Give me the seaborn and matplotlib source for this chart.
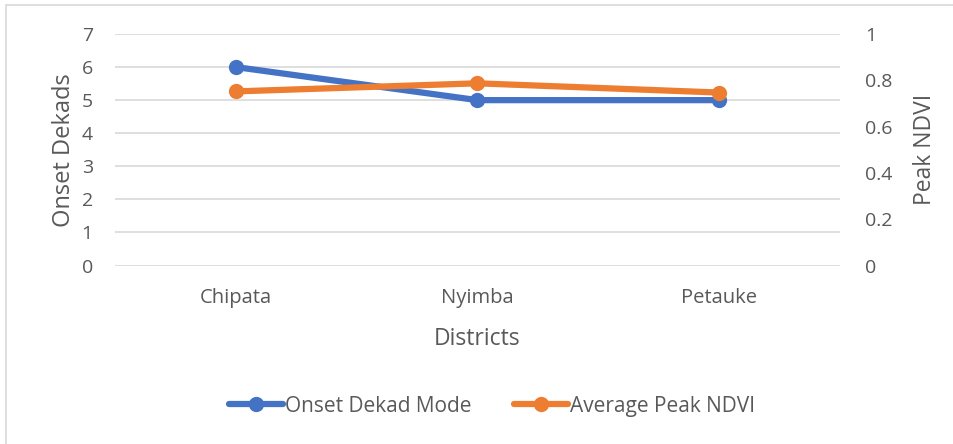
import matplotlib
matplotlib.use("Agg")
import matplotlib.pyplot as plt
import seaborn as sns
import pandas as pd
from matplotlib.lines import Line2D

districts = ["Chipata", "Nyimba", "Petauke"]
onset_dekad_mode = [6, 5, 5]
average_peak_ndvi = [0.752, 0.787, 0.747]
left_ticks = [0, 1, 2, 3, 4, 5, 6, 7]
right_ticks = [0, 0.2, 0.4, 0.6, 0.8, 1]

sns.set_theme(style="white")
plt.rcParams['font.family'] = ['Open Sans', 'DejaVu Sans']
TXT = "#595959"
BLUE = "#4472C4"
ORANGE = "#ED7D31"

df = pd.DataFrame({"District": districts, "Onset": onset_dekad_mode, "NDVI": average_peak_ndvi})
df["x"] = range(len(districts))

fig = plt.figure(figsize=(9.54, 4.44), dpi=100)
ax = fig.add_axes([115/954, 1-265.5/444, 725/954, 231.5/444])
ax2 = ax.twinx()

for y in left_ticks:
    ax.axhline(y, color="#D9D9D9", lw=1.2, zorder=0)

sns.lineplot(data=df, x="x", y="Onset", ax=ax, color=BLUE, lw=4.5, marker="o",
             markersize=11, markeredgewidth=0, zorder=3)
sns.lineplot(data=df, x="x", y="NDVI", ax=ax2, color=ORANGE, lw=4.5, marker="o",
             markersize=11, markeredgewidth=0, zorder=3)

ax.set_xlim(-0.5, 2.5)
ax.set_ylim(0, 7)
ax2.set_ylim(0, 1)
ax.set_yticks(left_ticks)
ax.set_yticklabels([str(v) for v in left_ticks])
ax2.set_yticks(right_ticks)
ax2.set_yticklabels(["0", "0.2", "0.4", "0.6", "0.8", "1"])
ax.set_xticks(range(len(districts)))
ax.set_xticklabels(districts)

for a in (ax, ax2):
    for s in a.spines.values():
        s.set_visible(False)
    a.tick_params(length=0, colors=TXT, labelsize=14)
    a.grid(False)
ax.tick_params(axis="x", labelsize=14.5, pad=16)
ax.tick_params(axis="y", pad=16)
ax2.tick_params(axis="y", pad=18)

ax.set_xlabel("Districts", color=TXT, fontsize=16.5, labelpad=14)
ax.set_ylabel("Onset Dekads", color=TXT, fontsize=17, labelpad=4)
ax2.set_ylabel("Peak NDVI", color=TXT, fontsize=16.5, labelpad=15)
ax.patch.set_visible(False)
ax2.set_zorder(ax.get_zorder() + 1)
ax2.patch.set_visible(False)

handles = [Line2D([], [], color=BLUE, lw=4.5, marker="o", markersize=11, markeredgewidth=0),
           Line2D([], [], color=ORANGE, lw=4.5, marker="o", markersize=11, markeredgewidth=0)]
fig.legend(handles, ["Onset Dekad Mode", "Average Peak NDVI"], loc="center",
           bbox_to_anchor=(492/954, 1-406/444), ncol=2, frameon=False, fontsize=15,
           labelcolor=TXT, handlelength=2.6, handletextpad=0.1, columnspacing=2.0)

border = plt.Rectangle((6.5/954, -0.1), 1.2, 1 - 5.5/444 + 0.1, transform=fig.transFigure,
                       fill=False, edgecolor="#D9D9D9", lw=1.2)
fig.patches.append(border)

fig.savefig("out.png", dpi=100)
